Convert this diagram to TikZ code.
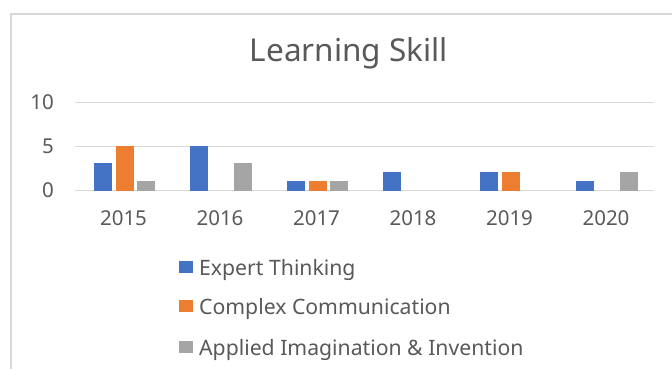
\documentclass[tikz,border=0pt]{standalone}
\usepackage{fontspec}
\setmainfont{Noto Sans}
\definecolor{txtgray}{HTML}{595959}
\definecolor{gridgray}{HTML}{D9D9D9}
\definecolor{expblue}{HTML}{4472C4}
\definecolor{comorange}{HTML}{ED7D31}
\definecolor{appgray}{HTML}{A5A5A5}
\tikzset{
	bar/.style={draw=white,line width=.6pt},
	key/.style={minimum width=14pt,minimum height=12pt,inner sep=0pt},
	lbl/.style={inner sep=0pt,text=txtgray,font=\fontsize{20.5}{24}\selectfont}
}
\newcommand\drawbar[3]{\ifnum#3>0 \fill[bar,#1] (#2,190) rectangle ++(17,-#3*8.8);\fi}
\begin{document}
\begin{tikzpicture}[x=1pt,y=-1pt]
\useasboundingbox (0,0) rectangle (672,369);
\fill[white] (0,0) rectangle (672,369);
\draw[line width=2pt,gridgray] (11,369)--(11,14)--(672,14);
\node[lbl,anchor=base,font=\fontsize{31.5}{37}\selectfont] (title) at (349,62){Learning Skill};

\foreach \v/\y in {0/190,5/146,10/102}
{
	\draw[gridgray,line width=1pt] (75,\y)--(654,\y);
	\node[lbl,anchor=base east] (v\v) at (54,\y+7){\v};
}

\foreach \i/\yr/\a/\b/\c in {0/2015/3/5/1,1/2016/5/0/3,2/2017/1/1/1,3/2018/2/0/0,4/2019/2/2/0,5/2020/1/0/2}
{
	\drawbar{expblue}{\i*96.5+94}{\a}
	\drawbar{comorange}{\i*96.5+116}{\b}
	\drawbar{appgray}{\i*96.5+137.5}{\c}
	\node[lbl,anchor=base] (y\yr) at (\i*96.5+123.5,225){\yr};
}

\foreach \n/\col/\t/\y in {1/expblue/Expert Thinking/267,2/comorange/Complex Communication/306,3/appgray/Applied Imagination \& Invention/347}
{
	\node[key,fill=\col] (k\n) at (186,\y){};
	\node[lbl,anchor=base west,font=\fontsize{21.2}{25}\selectfont] (l\n) at (199,\y+8){\t};
}
\end{tikzpicture}
\end{document}
